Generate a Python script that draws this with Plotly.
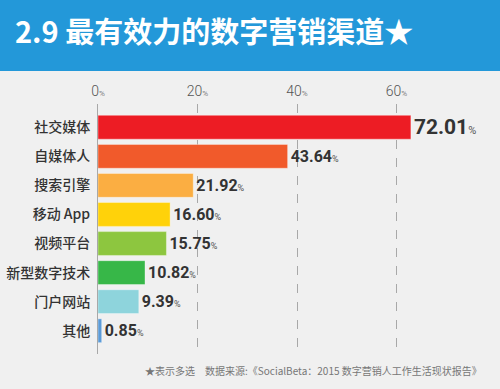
import plotly.graph_objects as go

categories = ["社交媒体", "自媒体人", "搜索引擎", "移动 App", "视频平台", "新型数字技术", "门户网站", "其他"]
values = [72.01, 43.64, 21.92, 16.60, 15.75, 10.82, 9.39, 0.85]
bar_colors = ["#ED1C24", "#F15A2B", "#FBAE42", "#FFD20A", "#8DC63F", "#37B748", "#8ED4DC", "#5B9BD8"]
label_sizes = [21, 16, 16, 16, 16, 16, 16, 16]
tick_values = [0, 20, 40, 60]
title_text = "2.9 最有效力的数字营销渠道★"
footnote = "★表示多选　数据来源:《SocialBeta：2015 数字营销人工作生活现状报告》"

W, H = 500, 389
ML, MR, MT, MB = 98, 2, 104, 35
plot_w = W - ML - MR
plot_h = H - MT - MB

# the original artwork uses a different pixel scale for bars than for its grid
bar_px_per_unit = 4.345
grid_px_per_unit = 4.975

texts = [
    f"{v:.2f}<span style='font-size:{11 if i == 0 else 9}px;font-weight:normal;color:#555'>%</span>"
    for i, v in enumerate(values)
]

fig = go.Figure()
fig.add_trace(go.Bar(
    y=categories, x=values, orientation="h",
    marker=dict(color=bar_colors, line=dict(color="rgba(255,255,255,0.35)", width=1)),
    width=0.82,
    text=texts, textposition="outside", constraintext="none", cliponaxis=False,
    textfont=dict(family="Roboto, DejaVu Sans", size=label_sizes, color="#333333", weight="bold"),
    hoverinfo="skip", xaxis="x", yaxis="y",
))

tick_text = [f"{t}<span style='font-size:8px'>%</span>" for t in tick_values]

fig.update_layout(
    width=W, height=H,
    margin=dict(l=ML, r=MR, t=MT, b=MB),
    paper_bgcolor="#F0F0F0", plot_bgcolor="#F0F0F0",
    showlegend=False,
    title=dict(
        text=f"<b>{title_text}</b>", xref="container", yref="container",
        x=15 / W, xanchor="left", y=1 - 33 / H, yanchor="middle",
        font=dict(family="Noto Sans CJK SC, Roboto", size=29, color="white"),
    ),
    xaxis=dict(
        range=[0, plot_w / bar_px_per_unit], visible=False, fixedrange=True,
    ),
    xaxis2=dict(
        overlaying="x", side="top", anchor="y",
        range=[0, plot_w / grid_px_per_unit],
        tickvals=tick_values, ticktext=tick_text,
        showgrid=True, griddash="dash", gridcolor="#A8A8A8", gridwidth=1,
        zeroline=False, showline=False,
        ticks="outside", ticklen=1, tickcolor="rgba(0,0,0,0)",
        tickfont=dict(family="Roboto, DejaVu Sans", size=14, color="#555555", weight=300),
    ),
    yaxis=dict(
        range=[7.8, -0.8], showline=True, linecolor="#A8A8A8", linewidth=1,
        showgrid=False, zeroline=False,
        ticks="outside", ticklen=4, tickcolor="rgba(0,0,0,0)",
        tickfont=dict(family="Noto Sans CJK SC", size=14, color="#333333", weight=500),
    ),
    shapes=[dict(
        type="rect", xref="paper", yref="paper",
        x0=-ML / plot_w - 0.01, x1=1 + MR / plot_w + 0.01,
        y0=(plot_h + MT - 71) / plot_h, y1=(plot_h + MT) / plot_h + 0.01,
        fillcolor="#2398D9", line=dict(width=0), layer="below",
    )],
    annotations=[dict(
        text=footnote, xref="paper", yref="paper",
        x=(484 - ML) / plot_w, xanchor="right",
        y=-(370 - (MT + plot_h)) / plot_h, yanchor="middle",
        showarrow=False, font=dict(family="Noto Sans CJK SC", size=10, color="#777777"),
    )],
)

# add an invisible trace so xaxis2 is rendered
fig.add_trace(go.Scatter(x=[0], y=[categories[0]], xaxis="x2", yaxis="y",
                         mode="markers", marker=dict(opacity=0), hoverinfo="skip"))

fig.write_html("out.html", config={"displayModeBar": False},
               post_script="document.body.style.margin='0px';document.body.style.overflow='hidden';")
